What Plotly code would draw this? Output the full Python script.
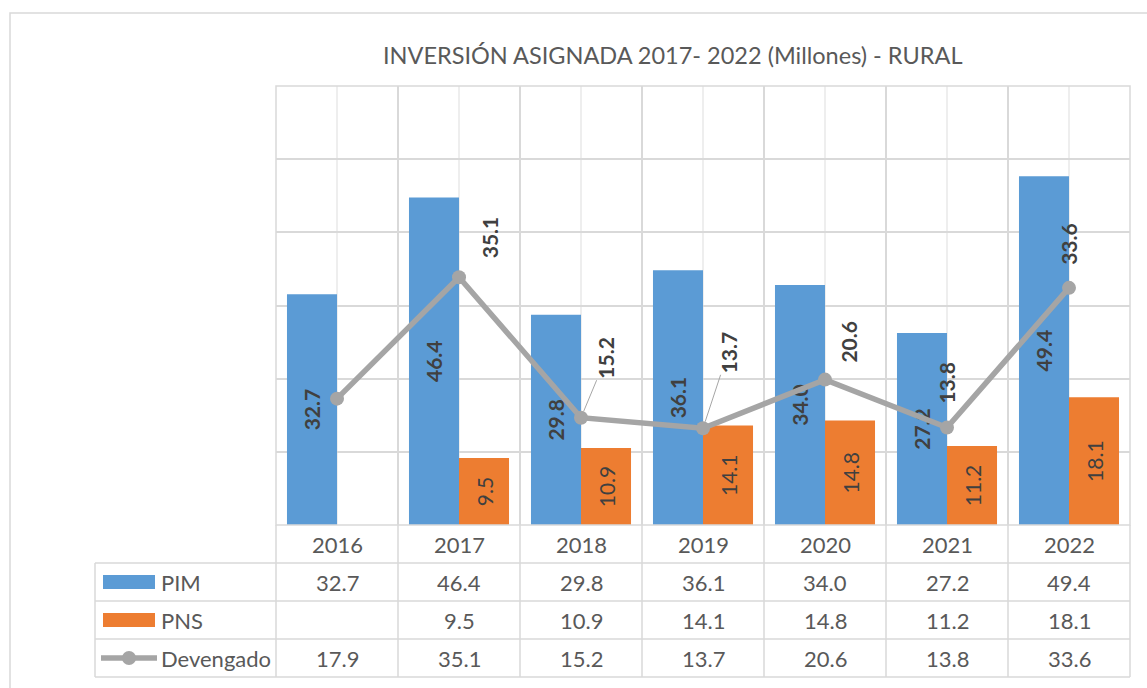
import plotly.graph_objects as go

# ---- data -------------------------------------------------------------
YEARS = ["2016", "2017", "2018", "2019", "2020", "2021", "2022"]
PIM = [32.7, 46.4, 29.8, 36.1, 34.0, 27.2, 49.4]
PNS = [None, 9.5, 10.9, 14.1, 14.8, 11.2, 18.1]
DEVENGADO = [17.9, 35.1, 15.2, 13.7, 20.6, 13.8, 33.6]
SERIES = ["PIM", "PNS", "Devengado"]
TITLE = "INVERSIÓN ASIGNADA 2017- 2022 (Millones) - RURAL"
Y_MAX = 62.2

# ---- styling ----------------------------------------------------------
BLUE, ORANGE, GREY = "#5b9bd5", "#ed7d31", "#a5a5a5"
GRID = "#d9d9d9"
TXT = "#595959"
LBL = "#404040"
FONT = "Lato"

# pixel offsets of the Devengado labels from their points (None = hidden)
DEV_LABEL_OFFSETS = [None, (30, -40), (25, -60), (25, -76), (24, -38), (0, -45), (0, -44)]
DEV_LEADER = [False, False, True, True, False, False, False]

W, H = 1147, 688
PLOT_L, PLOT_R, PLOT_T, PLOT_B = 276, 1130, 86, 525
TABLE_L = 95
ROW_H = 38


def px(x):
    return (x - PLOT_L) / (PLOT_R - PLOT_L)


def py(y):
    return (PLOT_B - y) / (PLOT_B - PLOT_T)


xs = list(range(len(YEARS)))
n = len(YEARS)

fig = go.Figure()
fig.add_trace(go.Bar(
    x=xs, y=PIM, name="PIM", marker=dict(color=BLUE, line=dict(width=0)),
    texttemplate="<b>%{y:.1f}</b>", textposition="inside",
    insidetextanchor="middle", textangle=-90, constraintext="none",
    insidetextfont=dict(family=FONT, size=21, color=LBL),
))
fig.add_trace(go.Bar(
    x=xs, y=PNS, name="PNS", marker=dict(color=ORANGE, line=dict(width=0)),
    texttemplate="%{y:.1f}", textposition="inside",
    insidetextanchor="middle", textangle=-90, constraintext="none",
    insidetextfont=dict(family=FONT, size=21, color=LBL),
))
fig.add_trace(go.Scatter(
    x=xs, y=DEVENGADO, name="Devengado", mode="lines+markers",
    line=dict(color=GREY, width=5.5), marker=dict(size=14, color=GREY),
))

annotations = []
# title
annotations.append(dict(
    x=px(672), y=py(55), xref="paper", yref="paper", text=TITLE,
    xanchor="center", yanchor="middle",
    showarrow=False, font=dict(family=FONT, size=23.5, color=TXT),
))

# Devengado data labels
for i, v in enumerate(DEVENGADO):
    off = DEV_LABEL_OFFSETS[i]
    if off is None:
        continue
    annotations.append(dict(
        x=i, y=v, xref="x", yref="y", text=f"<b>{v:.1f}</b>", textangle=-90,
        showarrow=True, ax=off[0], ay=off[1], arrowhead=0, arrowwidth=1,
        arrowcolor="#a6a6a6" if DEV_LEADER[i] else "rgba(0,0,0,0)", standoff=7,
        font=dict(family=FONT, size=21, color=LBL),
    ))

# data table
row_top = [PLOT_B + k * ROW_H for k in range(5)]
for i, yr in enumerate(YEARS):
    annotations.append(dict(
        x=i, y=py(row_top[0] + ROW_H / 2), xref="x", yref="paper", text=yr,
        xanchor="center", yanchor="middle",
        showarrow=False, font=dict(family=FONT, size=22, color=TXT),
    ))
for r, values in enumerate([PIM, PNS, DEVENGADO]):
    yc = py(row_top[r + 1] + ROW_H / 2)
    for i, v in enumerate(values):
        if v is None:
            continue
        annotations.append(dict(
            x=i, y=yc, xref="x", yref="paper", text=f"{v:.1f}",
            xanchor="center", yanchor="middle",
            showarrow=False, font=dict(family=FONT, size=22, color=TXT),
        ))
    annotations.append(dict(
        x=px(159), y=yc, xref="paper", yref="paper", text=SERIES[r],
        xanchor="left", yanchor="middle",
        showarrow=False, font=dict(family=FONT, size=22, color=TXT),
    ))

shapes = []
line = dict(color=GRID, width=1.5)
# outer chart border
shapes.append(dict(type="rect", xref="paper", yref="paper", x0=px(10), x1=px(1200),
                   y0=py(13), y1=py(720), line=line, layer="below"))
# plot area border
shapes.append(dict(type="rect", xref="paper", yref="paper", x0=0, x1=1, y0=0, y1=1,
                   line=line))
# table horizontal lines
for k in range(1, 5):
    shapes.append(dict(type="line", xref="paper", yref="paper", x0=px(TABLE_L), x1=1,
                       y0=py(row_top[k]), y1=py(row_top[k]), line=line))
# table vertical lines
shapes.append(dict(type="line", xref="paper", yref="paper", x0=px(TABLE_L), x1=px(TABLE_L),
                   y0=py(row_top[1]), y1=py(row_top[4]), line=line))
for i in range(n + 1):
    shapes.append(dict(type="line", xref="paper", yref="paper", x0=i / n, x1=i / n,
                       y0=py(row_top[0]), y1=py(row_top[4]), line=line))
# legend keys
for r, color in enumerate([BLUE, ORANGE]):
    yc = row_top[r + 1] + ROW_H / 2
    shapes.append(dict(type="rect", xref="paper", yref="paper", x0=px(103), x1=px(155),
                       y0=py(yc - 7), y1=py(yc + 7), fillcolor=color, line=dict(width=0)))
yc = row_top[3] + ROW_H / 2
shapes.append(dict(type="line", xref="paper", yref="paper", x0=px(101), x1=px(157),
                   y0=py(yc), y1=py(yc), line=dict(color=GREY, width=5.5)))
shapes.append(dict(type="circle", xref="paper", yref="paper", x0=px(122), x1=px(136),
                   y0=py(yc - 7), y1=py(yc + 7), fillcolor=GREY, line=dict(width=0)))

fig.update_layout(
    width=W, height=H,
    margin=dict(l=PLOT_L, r=W - PLOT_R, t=PLOT_T, b=H - PLOT_B, pad=0),
    paper_bgcolor="white", plot_bgcolor="white",
    barmode="group", bargap=0.18, bargroupgap=0,
    showlegend=False,
    font=dict(family=FONT, color=TXT),
    xaxis=dict(
        range=[-0.5, n - 0.5], tickvals=[i - 0.5 for i in range(n + 1)],
        showticklabels=False, showgrid=True, gridcolor=GRID, gridwidth=1.5,
        zeroline=False, ticks="",
        minor=dict(tickvals=xs, showgrid=True, gridcolor="#eeeeee", gridwidth=1.5, ticks=""),
    ),
    yaxis=dict(
        range=[0, Y_MAX], tickvals=[Y_MAX * k / 6 for k in range(7)],
        showticklabels=False, showgrid=True, gridcolor=GRID, gridwidth=1.5,
        zeroline=False, ticks="",
    ),
    annotations=annotations, shapes=shapes,
)

fig.write_html("out.html", config={"displayModeBar": False},
               post_script="document.body.style.margin='0';")
